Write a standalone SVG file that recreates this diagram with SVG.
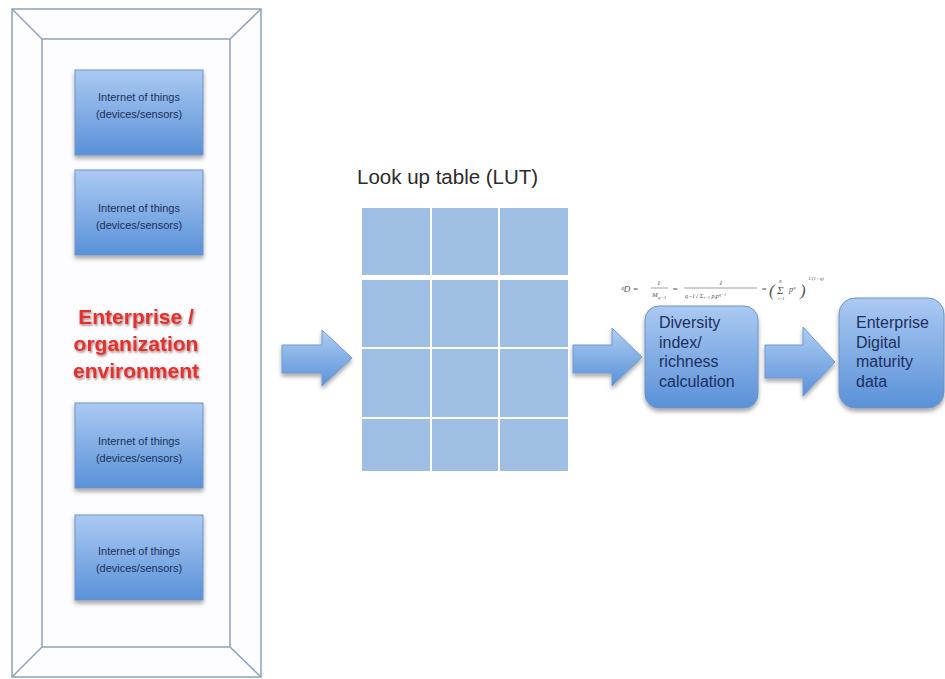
<svg xmlns="http://www.w3.org/2000/svg" width="945" height="679" viewBox="0 0 945 679">
<defs>
  <linearGradient id="boxg" x1="0" y1="0" x2="0" y2="1">
    <stop offset="0" stop-color="#abcaf2"/>
    <stop offset="1" stop-color="#5991d8"/>
  </linearGradient>
  <linearGradient id="arrg" x1="0" y1="0" x2="0" y2="1">
    <stop offset="0" stop-color="#afcdf3"/>
    <stop offset="1" stop-color="#5a92d8"/>
  </linearGradient>
  <filter id="sh" x="-20%" y="-20%" width="140%" height="150%">
    <feDropShadow dx="0" dy="3" stdDeviation="2" flood-color="#000" flood-opacity="0.35"/>
  </filter>
  <filter id="tsh" x="-10%" y="-20%" width="120%" height="150%">
    <feDropShadow dx="1" dy="1.5" stdDeviation="1" flood-color="#5a1010" flood-opacity="0.55"/>
  </filter>
</defs>
<style>
  .iot rect { fill: url(#boxg); stroke: #6e93c4; stroke-width: 1; filter: url(#sh); }
  .iot text { font-family: "Liberation Sans", Arial, sans-serif; font-size: 11px; fill: #1a2f5a; text-anchor: middle; }
  .frame { fill: #fdfdff; stroke: #8ea1bb; stroke-width: 1.5; }
  .bev { stroke: #8ea1bb; stroke-width: 1.5; fill: none; }
  .red { font-family: "Liberation Sans", Arial, sans-serif; font-weight: bold; font-size: 21px; fill: #e3302e; text-anchor: middle; filter: url(#tsh); }
  .cell { fill: #9ebee4; }
  .arr { fill: url(#arrg); stroke: #7099cf; stroke-width: 1; filter: url(#sh); }
  .rbox { fill: url(#boxg); stroke: #6e93c4; stroke-width: 1; filter: url(#sh); }
  .btxt { font-family: "Liberation Sans", Arial, sans-serif; font-size: 16px; fill: #1c2f5e; }
  .fx { font-family: "Liberation Serif", "Times New Roman", serif; font-style: italic; fill: #555555; }
</style>
<rect width="945" height="679" fill="#ffffff"/>

<g id="enterprise-frame">
  <rect class="frame" x="12" y="9" width="249" height="668"/>
  <rect class="frame" x="42" y="39" width="188" height="608"/>
  <line class="bev" x1="12" y1="9" x2="42" y2="39"/>
  <line class="bev" x1="261" y1="9" x2="230" y2="39"/>
  <line class="bev" x1="12" y1="677" x2="42" y2="647"/>
  <line class="bev" x1="261" y1="677" x2="230" y2="647"/>
  <text class="red" x="136" y="324">Enterprise /</text>
  <text class="red" x="136" y="351">organization</text>
  <text class="red" x="136" y="378">environment</text>
</g>

<g id="iot1" class="iot">
  <rect x="75" y="70" width="128" height="85"/>
  <text x="139" y="101">Internet of things</text>
  <text x="139" y="118">(devices/sensors)</text>
</g>
<g id="iot2" class="iot">
  <rect x="75" y="170" width="128" height="85"/>
  <text x="139" y="212">Internet of things</text>
  <text x="139" y="229">(devices/sensors)</text>
</g>
<g id="iot3" class="iot">
  <rect x="75" y="403" width="128" height="85"/>
  <text x="139" y="445">Internet of things</text>
  <text x="139" y="462">(devices/sensors)</text>
</g>
<g id="iot4" class="iot">
  <rect x="75" y="515" width="128" height="85"/>
  <text x="139" y="555">Internet of things</text>
  <text x="139" y="572">(devices/sensors)</text>
</g>

<g id="lut">
  <text x="357" y="184" font-family="Liberation Sans, Arial, sans-serif" font-size="20.5" fill="#2b2b2b">Look up table (LUT)</text>
  <rect class="cell" x="362" y="208" width="68" height="67"/>
  <rect class="cell" x="432" y="208" width="66" height="67"/>
  <rect class="cell" x="500" y="208" width="68" height="67"/>
  <rect class="cell" x="362" y="280" width="68" height="67"/>
  <rect class="cell" x="432" y="280" width="66" height="67"/>
  <rect class="cell" x="500" y="280" width="68" height="67"/>
  <rect class="cell" x="362" y="349" width="68" height="68"/>
  <rect class="cell" x="432" y="349" width="66" height="68"/>
  <rect class="cell" x="500" y="349" width="68" height="68"/>
  <rect class="cell" x="362" y="419" width="68" height="52"/>
  <rect class="cell" x="432" y="419" width="66" height="52"/>
  <rect class="cell" x="500" y="419" width="68" height="52"/>
</g>

<g id="formula">
  <text class="fx" x="621" y="292" font-size="9">ᵠD =</text>
  <text class="fx" x="657" y="285" font-size="7">1</text>
  <line x1="651" y1="288" x2="668" y2="288" stroke="#777" stroke-width="0.7"/>
  <text class="fx" x="652" y="297" font-size="7">M<tspan font-size="5" dy="1.5">q−1</tspan></text>
  <text class="fx" x="672" y="292" font-size="9">=</text>
  <text class="fx" x="719" y="285" font-size="7">1</text>
  <line x1="684" y1="288" x2="757" y2="288" stroke="#777" stroke-width="0.7"/>
  <text class="fx" x="685" y="298" font-size="6">q−1√ Σ<tspan font-size="4.5" dy="1">i=1</tspan><tspan dy="-1"> p</tspan><tspan font-size="4.5" dy="1">i</tspan><tspan dy="-1">p</tspan><tspan font-size="4.5" dy="-2">q−1</tspan></text>
  <text class="fx" x="761" y="292" font-size="9">=</text>
  <text class="fx" x="769" y="296" font-size="17">(</text>
  <text class="fx" x="777" y="294" font-size="11">Σ</text>
  <text class="fx" x="779" y="283" font-size="4.5">R</text>
  <text class="fx" x="778" y="300" font-size="4.5">i=1</text>
  <text class="fx" x="789" y="292" font-size="8">p<tspan font-size="5" dy="-3">q</tspan></text>
  <text class="fx" x="800" y="296" font-size="17">)</text>
  <text class="fx" x="808" y="280" font-size="5">1/(1−q)</text>
</g>

<g id="diversity">
  <rect class="rbox" x="645" y="306" width="113" height="102" rx="14" ry="14"/>
  <text class="btxt" x="659" y="328">Diversity</text>
  <text class="btxt" x="659" y="348">index/</text>
  <text class="btxt" x="659" y="367">richness</text>
  <text class="btxt" x="659" y="387">calculation</text>
</g>

<g id="maturity">
  <rect class="rbox" x="839" y="298" width="105" height="110" rx="16" ry="16"/>
  <text class="btxt" x="856" y="328" font-size="17.5">Enterprise</text>
  <text class="btxt" x="856" y="348" font-size="17.5">Digital</text>
  <text class="btxt" x="856" y="367" font-size="17.5">maturity</text>
  <text class="btxt" x="856" y="387" font-size="17.5">data</text>
</g>

<g id="connectors">
  <path class="arr" d="M282,345 L322,345 L322,330 L352,358 L322,386 L322,373 L282,373 Z"/>
  <path class="arr" d="M573,345 L612,345 L612,328 L642,357 L612,386 L612,373 L573,373 Z"/>
  <path class="arr" d="M765,345 L803,345 L803,327 L835,362 L803,396 L803,378 L765,378 Z"/>
</g>
</svg>
